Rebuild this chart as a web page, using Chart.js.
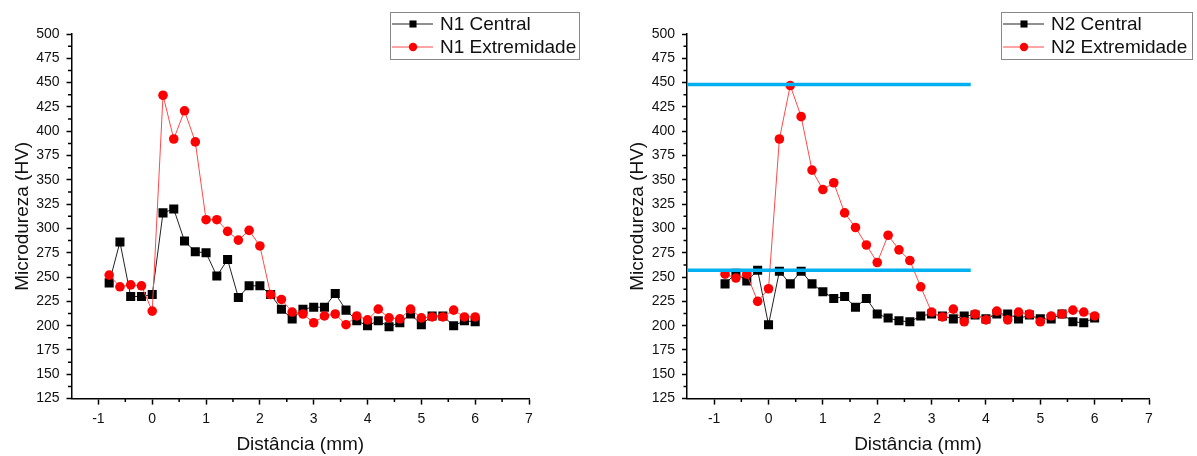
<!DOCTYPE html>
<html lang="pt">
<head>
<meta charset="UTF-8" />
<title>Microdureza</title>
<script src="https://cdn.jsdelivr.net/npm/chart.js"></script>
<style>
  body { margin: 0; background: #fff; }
  .wrap { position: relative; width: 1197px; height: 456px; }
  #c1 { position: absolute; left: 0; top: 0; }
  #c2 { position: absolute; left: 600px; top: 0; }
</style>
</head>
<body>
<div class="wrap">
  <canvas id="c1" width="600" height="456"></canvas>
  <canvas id="c2" width="597" height="456"></canvas>
</div>
<script>
// distance from the weld line (mm)
const distancia = [-0.8, -0.6, -0.4, -0.2, 0, 0.2, 0.4, 0.6, 0.8, 1.0, 1.2, 1.4, 1.6, 1.8, 2.0,
  2.2, 2.4, 2.6, 2.8, 3.0, 3.2, 3.4, 3.6, 3.8, 4.0, 4.2, 4.4, 4.6, 4.8, 5.0, 5.2, 5.4, 5.6, 5.8, 6.0];

const n1Central = [244, 286, 230, 230, 232, 316, 320, 287, 276, 275, 251, 268, 229, 241, 241,
  232, 217, 207, 217, 219, 219, 233, 216, 205, 200, 205, 199, 203, 212, 201, 210, 210, 200, 205, 204];
const n1Extremidade = [252, 240, 242, 241, 215, 437, 392, 421, 389, 309, 309, 297, 288, 298, 282,
  232, 227, 214, 212, 203, 210, 212, 201, 210, 206, 217, 208, 207, 217, 208, 209, 209, 216, 209, 209];

const n2Central = [243, 254, 246, 257, 201, 256, 243, 256, 243, 235, 228, 230, 219, 228, 212,
  208, 205, 204, 210, 212, 210, 207, 210, 211, 207, 212, 212, 207, 211, 207, 207, 212, 204, 203, 208];
const n2Extremidade = [253, 249, 253, 225, 238, 392, 447, 415, 360, 340, 347, 316, 301, 283, 265,
  293, 278, 267, 240, 214, 209, 217, 204, 212, 206, 215, 206, 214, 212, 204, 210, 212, 216, 214, 210];

// the two horizontal reference lines on the N2 plot
const limitesN2 = [448, 257];
const limitesX = [-1.5, 3.72];

const xTicks = [-1, 0, 1, 2, 3, 4, 5, 6, 7];
const yTicks = [125, 150, 175, 200, 225, 250, 275, 300, 325, 350, 375, 400, 425, 450, 475, 500];

const xMinor = xTicks.slice(0, -1).map(v => v + 0.5);
const yMinor = yTicks.slice(0, -1).map(v => v + 12.5);

Chart.defaults.font.family = '"Liberation Sans", Arial, sans-serif';
Chart.defaults.color = '#111';

const pts = (ys) => ys.map((y, i) => ({ x: distancia[i], y }));

// minor ticks + the framed legend drawn over the top right corner
const extras = {
  id: 'extras',
  afterDraw(chart, args, opts) {
    const ctx = chart.ctx;
    const xs = chart.scales.x, ys = chart.scales.y;
    ctx.save();
    ctx.strokeStyle = '#000';
    ctx.lineWidth = 1.5;
    ctx.beginPath();
    xMinor.forEach(v => {
      const px = xs.getPixelForValue(v);
      ctx.moveTo(px, ys.bottom);
      ctx.lineTo(px, ys.bottom + 3.5);
    });
    yMinor.forEach(v => {
      const py = ys.getPixelForValue(v);
      ctx.moveTo(xs.left, py);
      ctx.lineTo(xs.left - 3.5, py);
    });
    ctx.stroke();

    const b = opts.box;
    ctx.fillStyle = '#fff';
    ctx.fillRect(b.x, b.y, b.w, b.h);
    ctx.strokeStyle = '#888';
    ctx.lineWidth = 1;
    ctx.strokeRect(b.x + 0.5, b.y + 0.5, b.w, b.h);

    chart.data.datasets.slice(0, 2).forEach((ds, i) => {
      const cy = b.y + 12 + i * 23;
      ctx.strokeStyle = ds.borderColor;
      ctx.lineWidth = 1;
      ctx.beginPath();
      ctx.moveTo(b.x + 2, cy);
      ctx.lineTo(b.x + 43, cy);
      ctx.stroke();
      ctx.fillStyle = ds.pointBackgroundColor;
      ctx.strokeStyle = ds.pointBackgroundColor;
      Chart.helpers.drawPoint(ctx, {
        pointStyle: ds.pointStyle, rotation: 0,
        radius: ds.pointStyle === 'rect' ? 5 : 4.2, borderWidth: 0
      }, b.x + 23, cy);
      ctx.fillStyle = '#111';
      ctx.font = '19px "Liberation Sans", Arial, sans-serif';
      ctx.textBaseline = 'middle';
      ctx.textAlign = 'left';
      ctx.fillText(ds.label, b.x + 50, cy + 1);
    });
    ctx.restore();
  }
};

function makeChart(id, nomes, central, extremidade, geo, limites) {
  const datasets = [
    {
      label: nomes[0],
      data: pts(central),
      borderColor: '#222',
      borderWidth: 1,
      pointStyle: 'rect',
      pointRadius: 6.4,
      pointBackgroundColor: '#000',
      pointBorderColor: '#000',
      pointBorderWidth: 0,
      order: 3
    },
    {
      label: nomes[1],
      data: pts(extremidade),
      borderColor: '#ff4a4a',
      borderWidth: 1,
      pointStyle: 'circle',
      pointRadius: 4.8,
      pointBackgroundColor: '#ff0000',
      pointBorderColor: '#ff0000',
      pointBorderWidth: 0,
      order: 2
    }
  ];
  if (limites) {
    limites.forEach(v => datasets.push({
      label: 'limite',
      data: limitesX.map(x => ({ x, y: v })),
      borderColor: '#00b0f0',
      borderWidth: 3.5,
      pointRadius: 0,
      order: 1
    }));
  }

  return new Chart(document.getElementById(id), {
    type: 'line',
    data: { datasets },
    options: {
      responsive: false,
      animation: false,
      layout: { padding: { left: 0, right: geo.right, top: 34, bottom: 0 } },
      plugins: {
        legend: { display: false },
        tooltip: { enabled: false },
        extras: { box: geo.box }
      },
      scales: {
        x: {
          type: 'linear',
          min: -1.5,
          max: 7,
          afterBuildTicks: s => { s.ticks = xTicks.map(value => ({ value })); },
          afterFit: s => { s.height = 57.4; },
          border: { display: true, color: '#000', width: 1.5 },
          grid: { drawOnChartArea: false, drawTicks: true, tickLength: 6, tickColor: '#000', tickWidth: 1.5 },
          ticks: { font: { size: 14 }, padding: 6, maxRotation: 0 },
          title: { display: true, text: 'Distância (mm)', font: { size: 19 }, padding: { top: 0, bottom: 0 } }
        },
        y: {
          type: 'linear',
          min: 125,
          max: 500,
          afterBuildTicks: s => { s.ticks = yTicks.map(value => ({ value })); },
          afterFit: s => { s.width = geo.left; },
          border: { display: true, color: '#000', width: 1.5 },
          grid: { drawOnChartArea: false, drawTicks: true, tickLength: 5, tickColor: '#000', tickWidth: 1.5 },
          ticks: { font: { size: 14 }, padding: 7 },
          title: { display: true, text: 'Microdureza (HV)', font: { size: 19 }, padding: { top: geo.titlePad, bottom: 0 } }
        }
      }
    },
    plugins: [extras]
  });
}

makeChart('c1', ['N1 Central', 'N1 Extremidade'], n1Central, n1Extremidade,
  { left: 71.5, right: 71, titlePad: 11.5, box: { x: 390, y: 12, w: 189, h: 47 } }, null);

makeChart('c2', ['N2 Central', 'N2 Extremidade'], n2Central, n2Extremidade,
  { left: 87, right: 48, titlePad: 26.5, box: { x: 401, y: 12, w: 191, h: 47 } }, limitesN2);
</script>
</body>
</html>
